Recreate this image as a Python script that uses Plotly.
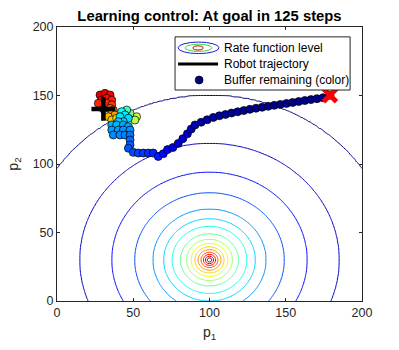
import numpy as np
import plotly.graph_objects as go

# ---------------- data ----------------
# Rate-function field: peak location and radii of the contour levels (outer -> inner)
peak_p1 = 100
peak_p2 = 30
level_radii = [120, 85, 64, 49, 37, 30, 24.5, 19, 15, 12, 9.5, 7.5, 5.5, 4, 2.7, 1.5]

# Robot trajectory (start near the "+" marker, end at the red "x" goal)
traj_p1 = [30.4, 28.2, 31.5, 34.8, 29.3, 32.6, 35.9, 27.1, 32.6, 35.9,
           34.8, 36.9, 35.9, 38.0, 33.7, 35.9, 39.1,
           52.2, 51.1, 47.9, 45.7,
           42.4, 44.6, 41.3, 46.8, 43.5, 40.2,
           35.9, 39.1, 43.5, 46.8, 35.9, 40.2, 43.5, 47.9, 36.9, 41.3, 44.6,
           47.9, 47.9, 47.9, 46.8,
           50.0, 53.3, 56.6, 59.9, 63.1, 66.4,
           69.7, 72.5, 76.0, 79.5, 82.5, 85.5, 88.0, 90.5,
           94.5, 98.5, 102.5, 106.5, 110.5, 114.5, 118.5, 122.5, 126.5, 130.5,
           134.5, 138.5, 142.5, 146.5, 150.5, 154.5, 158.5, 162.5, 166.5, 170.5, 174.5,
           179.0]
traj_p2 = [140.2, 150.4, 151.6, 150.4, 146.7, 148.0, 146.7, 144.3, 144.3, 143.1,
           140.6, 139.4, 137.0, 135.8, 134.5, 132.1, 133.4,
           134.5, 132.1, 137.0, 139.4,
           138.2, 135.8, 134.5, 133.4, 130.9, 130.9,
           128.5, 128.5, 128.5, 127.3, 124.8, 124.8, 124.8, 124.8, 121.2, 121.2, 121.2,
           121.2, 117.5, 113.9, 111.5,
           108.5, 108.0, 108.0, 108.0, 108.0, 105.5,
           107.5, 110.5, 112.0, 115.0, 118.5, 122.0, 125.5, 128.5,
           130.5, 132.3, 134.0, 135.2, 136.2, 137.2, 138.1, 139.0, 139.9, 140.7,
           141.4, 142.1, 142.8, 143.5, 144.2, 144.9, 145.6, 146.3, 147.0, 147.7, 148.4,
           150.2]
buffer_left = [0.92, 0.90, 0.89, 0.88, 0.87, 0.86, 0.85, 0.84, 0.83, 0.82,
               0.78, 0.76, 0.74, 0.72, 0.70, 0.68, 0.66,
               0.58, 0.55, 0.48, 0.44,
               0.38, 0.36, 0.35, 0.34, 0.33, 0.32,
               0.30, 0.30, 0.29, 0.29, 0.28, 0.28, 0.27, 0.27, 0.26, 0.26, 0.25,
               0.24, 0.23, 0.22, 0.21,
               0.20, 0.19, 0.18, 0.17, 0.16, 0.15,
               0.13, 0.12, 0.10, 0.09, 0.08, 0.07, 0.06, 0.05,
               0.04, 0.035, 0.03, 0.028, 0.026, 0.024, 0.022, 0.02, 0.018, 0.016,
               0.014, 0.012, 0.011, 0.01, 0.009, 0.008, 0.007, 0.006, 0.005, 0.004, 0.003,
               0.002]
start_p1, start_p2 = 30.4, 140.2
goal_p1, goal_p2 = 179.0, 150.2

x_ticks = [0, 50, 100, 150, 200]
y_ticks = [0, 50, 100, 150, 200]

# ---------------- figure ----------------
jet = [[0.0, 'rgb(0,0,128)'], [0.125, 'rgb(0,0,255)'], [0.375, 'rgb(0,255,255)'],
       [0.625, 'rgb(255,255,0)'], [0.875, 'rgb(255,0,0)'], [1.0, 'rgb(128,0,0)']]

gx = np.arange(0, 201, 1.0)
gy = np.arange(0, 201, 1.0)
GX, GY = np.meshgrid(gx, gy)
R = np.sqrt((GX - peak_p1) ** 2 + (GY - peak_p2) ** 2)
n_lev = len(level_radii)
rad_asc = [0.0] + level_radii[::-1] + [400.0]
val_asc = [n_lev + 1] + list(range(n_lev, 0, -1)) + [0]
Z = np.interp(R, rad_asc, val_asc)

fig = go.Figure()
fig.add_trace(go.Contour(
    x=gx, y=gy, z=Z, colorscale=jet, zmin=-0.75, zmax=18.5, zauto=False,
    contours=dict(start=1, end=n_lev, size=1, coloring='lines', showlabels=False),
    line=dict(width=1), showscale=False, hoverinfo='skip', showlegend=False))

fig.add_trace(go.Scatter(x=traj_p1, y=traj_p2, mode='lines',
                         line=dict(color='black', width=2.5), showlegend=False))
fig.add_trace(go.Scatter(x=traj_p1, y=traj_p2, mode='markers',
                         marker=dict(size=8, color=buffer_left, colorscale=jet, cmin=0, cmax=1,
                                     line=dict(color='black', width=0.7)),
                         showlegend=False))
fig.add_trace(go.Scatter(x=[goal_p1], y=[goal_p2], mode='markers',
                         marker=dict(symbol='x-thin', size=13, line=dict(color='red', width=5)),
                         showlegend=False))
fig.add_trace(go.Scatter(x=[start_p1], y=[start_p2], mode='markers',
                         marker=dict(symbol='cross-thin', size=17, line=dict(color='black', width=4.5)),
                         showlegend=False))

FONT = 'Liberation Sans, Arial, sans-serif'
axis_common = dict(range=[0, 200], showgrid=False, zeroline=False, ticks='inside', ticklen=3,
                   tickcolor='#262626', showline=True, linecolor='#262626', linewidth=1,
                   mirror='ticks', tickfont=dict(family=FONT, size=12.5, color='#262626'))
fig.update_xaxes(**axis_common, tickvals=x_ticks,
                 title=dict(text='p<sub>1</sub>', font=dict(family=FONT, size=14, color='#262626'),
                            standoff=8))
fig.update_yaxes(**axis_common, tickvals=y_ticks,
                 title=dict(text='p<sub>2</sub>', font=dict(family=FONT, size=14, color='#262626'),
                            standoff=10))

# custom legend (paper coordinates)
shapes = [
    dict(type='rect', xref='paper', yref='paper', x0=0.387, x1=0.961, y0=0.770, y1=0.964,
         line=dict(color='#262626', width=1), fillcolor='white', layer='above'),
    dict(type='circle', xref='paper', yref='paper', x0=0.397, x1=0.531, y0=0.903, y1=0.945,
         line=dict(color='rgb(30,30,220)', width=1), layer='above'),
    dict(type='circle', xref='paper', yref='paper', x0=0.420, x1=0.508, y0=0.911, y1=0.937,
         line=dict(color='rgb(60,220,60)', width=1), layer='above'),
    dict(type='circle', xref='paper', yref='paper', x0=0.446, x1=0.479, y0=0.916, y1=0.931,
         line=dict(color='rgb(200,0,0)', width=1), layer='above'),
    dict(type='line', xref='paper', yref='paper', x0=0.397, x1=0.528, y0=0.865, y1=0.865,
         line=dict(color='black', width=3), layer='above'),
    dict(type='circle', xref='paper', yref='paper', x0=0.453, x1=0.479, y0=0.792, y1=0.821,
         line=dict(color='black', width=0.7), fillcolor='rgb(0,0,128)', layer='above'),
]
ann = []
for txt, yy in [('Rate function level', 0.922), ('Robot trajectory', 0.865),
                ('Buffer remaining (color)', 0.807)]:
    ann.append(dict(text=txt, xref='paper', yref='paper', x=0.541, y=yy, xanchor='left',
                    yanchor='middle', showarrow=False,
                    font=dict(family=FONT, size=12, color='black')))

fig.update_layout(
    width=399, height=350, margin=dict(l=57, r=37, t=27, b=49),
    paper_bgcolor='white', plot_bgcolor='white',
    title=dict(text='<b>Learning control: At goal in 125 steps</b>', x=0.525, xanchor='center',
               y=0.955, yanchor='middle', font=dict(family=FONT, size=14.8, color='black')),
    shapes=shapes, annotations=ann, showlegend=False)

fig.write_html('out.html', config={'displayModeBar': False},
               post_script="document.body.style.margin='0px';")
